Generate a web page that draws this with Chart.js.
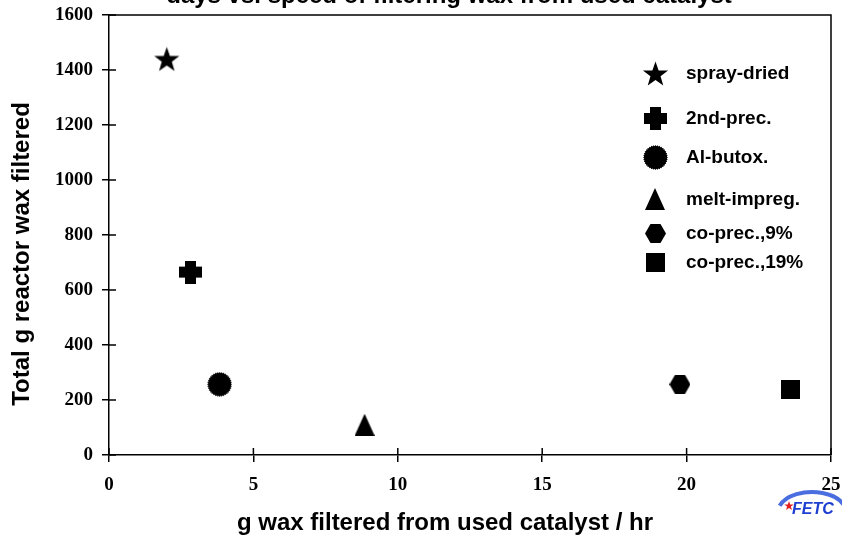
<!DOCTYPE html>
<html><head><meta charset="utf-8">
<script src="https://cdn.jsdelivr.net/npm/chart.js@4.4.0/dist/chart.umd.min.js"></script>
<style>html,body{margin:0;padding:0;background:#fff}#wrap{width:842px;height:537px}</style>
</head><body><div id="wrap"><canvas id="c" width="842" height="537"></canvas></div>
<script>
// ---- data ----
const seriesNames = ['spray-dried', '2nd-prec.', 'Al-butox.', 'melt-impreg.', 'co-prec.,9%', 'co-prec.,19%'];
const xValues = [2.0, 2.82, 3.83, 8.85, 19.77, 23.61];
const yValues = [1440, 665, 257, 110, 257, 239];
const xTickValues = [0, 5, 10, 15, 20, 25];
const yTickValues = [0, 200, 400, 600, 800, 1000, 1200, 1400, 1600];
const titleText = 'days vs. speed of filtering wax from used catalyst';
const xTitleText = 'g wax filtered from used catalyst / hr';
const yTitleText = 'Total g reactor wax filtered';

const SANS = "'Liberation Sans', Arial, sans-serif";
const SERIF = "'Liberation Serif', 'Times New Roman', serif";

// ---- marker images ----
function mk(w, h, draw) {
  const c = document.createElement('canvas'); c.width = w; c.height = h;
  const g = c.getContext('2d'); g.fillStyle = '#000'; draw(g, w, h); return c;
}
const starImg = mk(27, 27, (g) => {
  const cx = 13.5, cy = 14.7, R = 13.2, r = 5.3;
  g.beginPath();
  for (let i = 0; i < 10; i++) {
    const a = -Math.PI / 2 + i * Math.PI / 5, rr = i % 2 ? r : R;
    g.lineTo(cx + rr * Math.cos(a), cy + rr * Math.sin(a));
  }
  g.closePath(); g.fill();
});
const plusImg = mk(23, 23, (g) => {
  g.fillRect(6, 0, 11, 23); g.fillRect(0, 6, 23, 11);
});
const circImg = mk(25, 25, (g) => {
  g.beginPath();
  const n = 36;
  for (let i = 0; i < n * 2; i++) {
    const a = i * Math.PI / n, rr = i % 2 ? 11.3 : 12.4;
    g.lineTo(12.5 + rr * Math.cos(a), 12.5 + rr * Math.sin(a));
  }
  g.closePath(); g.fill();
});
const triImg = mk(20, 22, (g) => {
  g.beginPath(); g.moveTo(10, 0); g.lineTo(20, 22); g.lineTo(0, 22); g.closePath(); g.fill();
});
const hexImg = mk(21, 19, (g) => {
  g.beginPath(); g.moveTo(0, 9.5); g.lineTo(5.5, 0); g.lineTo(15.5, 0); g.lineTo(21, 9.5);
  g.lineTo(15.5, 19); g.lineTo(5.5, 19); g.closePath(); g.fill();
});
const sqImg = mk(19, 19, (g) => { g.fillRect(0, 0, 19, 19); });
const markerImgs = [starImg, plusImg, circImg, triImg, hexImg, sqImg];

const datasets = seriesNames.map((name, i) => ({
  label: name,
  data: [{ x: xValues[i], y: yValues[i] }],
  pointStyle: markerImgs[i],
  backgroundColor: '#000', borderColor: '#000',
  showLine: false
}));

const PA = { left: 109, right: 831, top: 15, bottom: 455 };

function zeroPad(s) { s.paddingLeft = 0; s.paddingRight = 0; s.paddingTop = 0; s.paddingBottom = 0; }

const decor = {
  id: 'decor',
  afterDraw(chart) {
    const ctx = chart.ctx, a = chart.chartArea;
    const xs = chart.scales.x, ys = chart.scales.y;
    ctx.save();
    ctx.strokeStyle = '#000'; ctx.lineWidth = 1.5;
    // frame top/right
    ctx.beginPath();
    ctx.moveTo(a.left, a.top); ctx.lineTo(a.right, a.top); ctx.lineTo(a.right, a.bottom);
    ctx.stroke();
    // inner tick parts
    ctx.beginPath();
    xTickValues.forEach(v => { const p = xs.getPixelForValue(v); ctx.moveTo(p, a.bottom); ctx.lineTo(p, a.bottom - 7); });
    yTickValues.forEach(v => { const p = ys.getPixelForValue(v); ctx.moveTo(a.left, p); ctx.lineTo(a.left + 7, p); });
    ctx.stroke();
    // title (partly cut off at top)
    ctx.fillStyle = '#000';
    ctx.font = 'bold 24px ' + SANS;
    ctx.textAlign = 'center'; ctx.textBaseline = 'alphabetic';
    ctx.fillText(titleText, 449, 3);
    // axis titles
    ctx.fillText(xTitleText, 445, 530);
    ctx.save();
    ctx.translate(29, 254); ctx.rotate(-Math.PI / 2);
    ctx.fillText(yTitleText, 0, 0);
    ctx.restore();
    // legend
    const ly = [73, 118, 157, 199, 233, 262];
    ctx.font = 'bold 19px ' + SANS;
    ctx.textAlign = 'left'; ctx.textBaseline = 'middle';
    seriesNames.forEach((n, i) => {
      const im = markerImgs[i];
      ctx.drawImage(im, Math.round(655 - im.width / 2), Math.round(ly[i] - im.height / 2));
      ctx.fillText(n, 686, ly[i] + 1);
    });
    // FETC logo
    ctx.save();
    ctx.strokeStyle = '#4a6ee0'; ctx.lineWidth = 4;
    ctx.beginPath();
    ctx.ellipse(812, 512, 34, 20, 0, Math.PI * 1.1, Math.PI * 1.88);
    ctx.stroke();
    ctx.fillStyle = '#1f3fd0';
    ctx.font = 'italic bold 16px ' + SANS;
    ctx.textAlign = 'left'; ctx.textBaseline = 'alphabetic';
    ctx.fillText('FETC', 792, 514);
    ctx.fillStyle = '#e02020';
    ctx.beginPath();
    for (let i = 0; i < 10; i++) {
      const an = -Math.PI / 2 + i * Math.PI / 5, rr = i % 2 ? 2 : 5;
      ctx.lineTo(789 + rr * Math.cos(an), 506 + rr * Math.sin(an));
    }
    ctx.closePath(); ctx.fill();
    ctx.restore();
    ctx.restore();
  }
};

new Chart(document.getElementById('c'), {
  type: 'scatter',
  data: { datasets },
  options: {
    responsive: false, animation: false, devicePixelRatio: 1,
    layout: { padding: { top: PA.top, right: 842 - PA.right, left: 0, bottom: 0 } },
    plugins: { legend: { display: false }, tooltip: { enabled: false }, title: { display: false } },
    scales: {
      x: {
        type: 'linear', min: 0, max: 25,
        afterFit: (s) => { s.height = 537 - PA.bottom; zeroPad(s); },
        afterBuildTicks: (s) => { s.ticks = xTickValues.map(v => ({ value: v })); },
        ticks: { color: '#000', font: { family: SERIF, weight: 'bold', size: 19 }, padding: 12, maxRotation: 0,
                 callback: (v) => String(v) },
        grid: { display: true, drawOnChartArea: false, drawTicks: true, tickLength: 7, color: '#000', lineWidth: 1.5 },
        border: { display: true, color: '#000', width: 1.5 }
      },
      y: {
        type: 'linear', min: 0, max: 1600,
        afterFit: (s) => { s.width = PA.left; zeroPad(s); },
        afterBuildTicks: (s) => { s.ticks = yTickValues.map(v => ({ value: v })); },
        ticks: { color: '#000', font: { family: SERIF, weight: 'bold', size: 19 }, padding: 9,
                 callback: (v) => String(v) },
        grid: { display: true, drawOnChartArea: false, drawTicks: true, tickLength: 7, color: '#000', lineWidth: 1.5 },
        border: { display: true, color: '#000', width: 1.5 }
      }
    }
  },
  plugins: [decor]
});
</script>
</body></html>
